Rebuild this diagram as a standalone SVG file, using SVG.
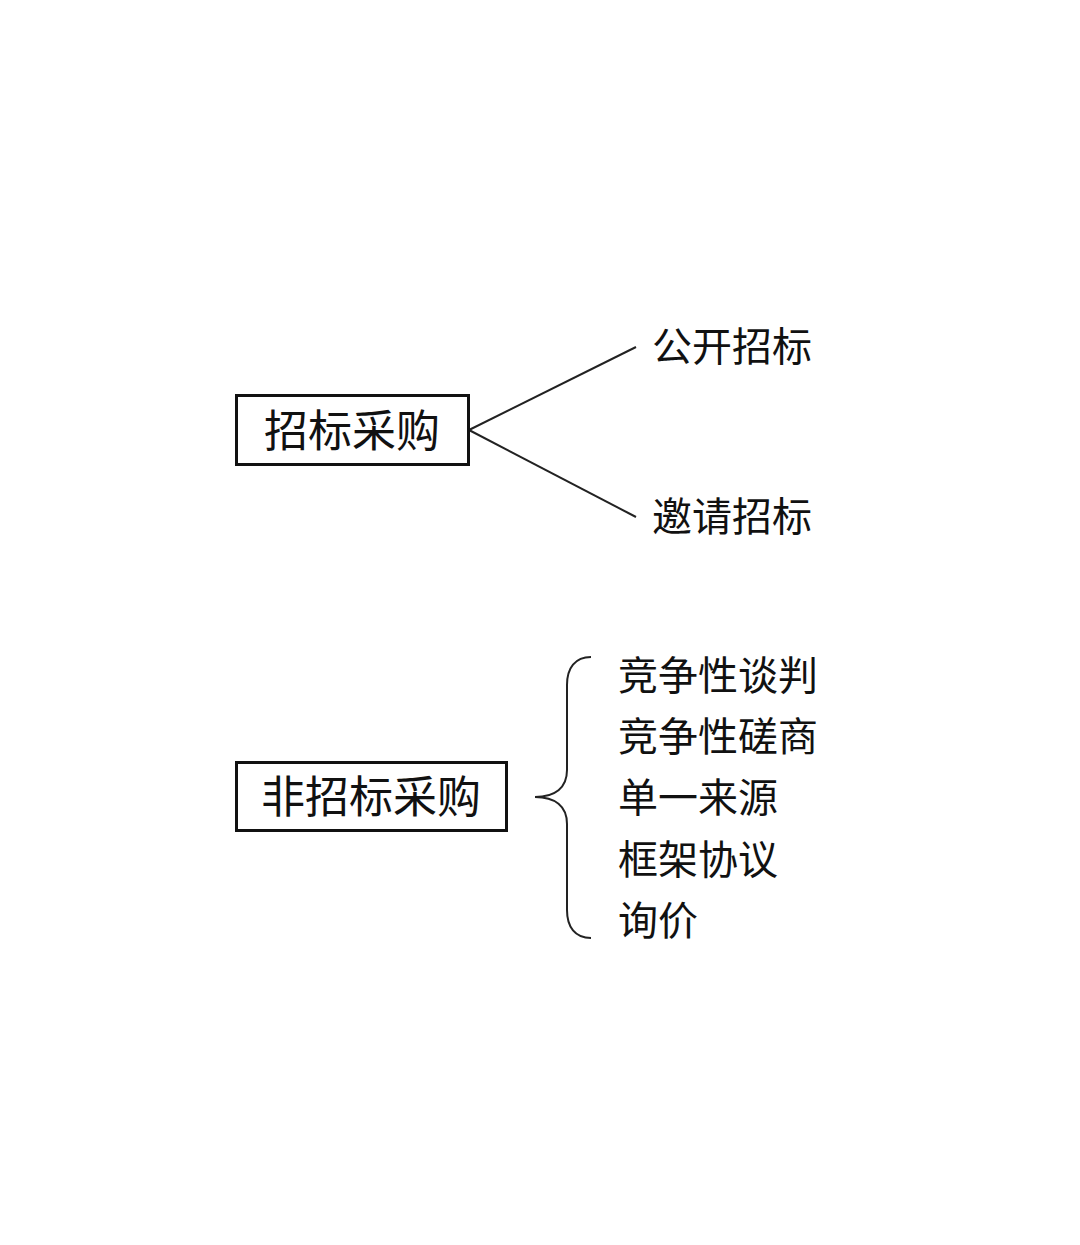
<svg xmlns="http://www.w3.org/2000/svg" width="1080" height="1245" viewBox="0 0 1080 1245">
<style>
text{font-family:"Noto Sans CJK SC","Microsoft YaHei",sans-serif;fill:#111}
.box{fill:#fff;stroke:#111;stroke-width:3}
.big{font-size:44px;text-anchor:middle}
.item{font-size:40px}
.line{fill:none;stroke:#222;stroke-width:2}
</style>
<rect width="1080" height="1245" fill="#fff"/>
<g id="connectors">
<line class="line" x1="469" y1="430" x2="636" y2="347"/>
<line class="line" x1="469" y1="430" x2="636" y2="517"/>
<path class="line" d="M591,657 C575,657 567,668 567,685 L567,770 C567,788 555,797 535,797 C555,797 567,806 567,824 L567,910 C567,927 575,938 591,938"/>
</g>
<g id="node-zhaobiao">
<rect class="box" x="236.5" y="395.5" width="232" height="69"/>
<text class="big" x="352" y="447">招标采购</text>
</g>
<g id="node-gongkai"><text class="item" x="652" y="361">公开招标</text></g>
<g id="node-yaoqing"><text class="item" x="652" y="531">邀请招标</text></g>
<g id="node-feizhaobiao">
<rect class="box" x="236.5" y="762.5" width="270" height="68"/>
<text class="big" x="371" y="813">非招标采购</text>
</g>
<g id="node-tanpan"><text class="item" x="618" y="690">竞争性谈判</text></g>
<g id="node-cuoshang"><text class="item" x="618" y="751">竞争性磋商</text></g>
<g id="node-danyi"><text class="item" x="618" y="812">单一来源</text></g>
<g id="node-kuangjia"><text class="item" x="618" y="874">框架协议</text></g>
<g id="node-xunjia"><text class="item" x="618" y="935">询价</text></g>
</svg>
